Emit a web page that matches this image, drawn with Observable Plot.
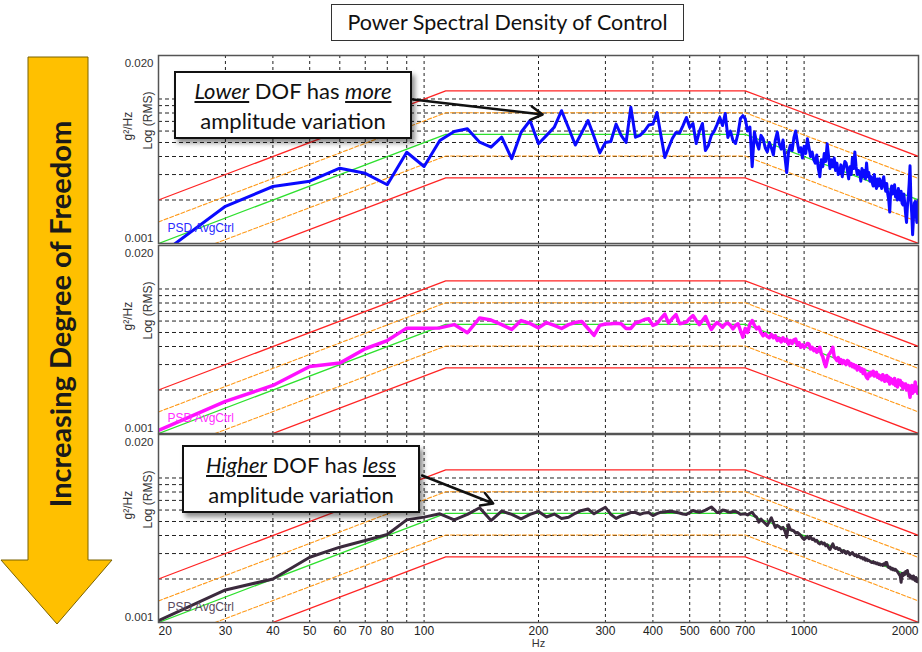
<!DOCTYPE html>
<html><head><meta charset="utf-8">
<script src="https://cdn.jsdelivr.net/npm/d3@7"></script>
<script src="https://cdn.jsdelivr.net/npm/@observablehq/plot@0.6"></script>
<style>
body{margin:0;background:#fff;}
#wrap{position:relative;width:922px;height:652px;overflow:hidden;font-family:Lato,"Open Sans",sans-serif;}
.panel{position:absolute;left:0;}
.title{position:absolute;left:331px;top:4px;width:353px;height:37px;border:1px solid #333;box-sizing:border-box;font-size:21.5px;line-height:35px;text-align:center;color:#111;background:#fff;}
.note{position:absolute;width:238px;height:68px;border:2px solid #111;box-sizing:border-box;background:#fff;box-shadow:3px 4px 5px rgba(0,0,0,0.45);text-align:center;font-size:22px;line-height:30px;padding-top:3px;color:#111;z-index:5;white-space:nowrap;}
</style></head>
<body>
<div id="wrap">
  <div class="title">Power Spectral Density of Control</div>
  <svg width="115" height="652" style="position:absolute;left:0;top:0">
    <polygon points="28,57 88,57 88,560 112,560 57,624 1,560 28,560" fill="#ffc000" stroke="#7a6200" stroke-width="1"/>
    <text transform="translate(59,314) rotate(-90)" text-anchor="middle" dominant-baseline="central" font-family="Lato" font-weight="bold" font-size="29" fill="#1a1a1a">Increasing Degree of Freedom</text>
  </svg>
  <div id="p1" class="panel" style="top:45px"></div>
  <div id="p2" class="panel" style="top:235px"></div>
  <div id="p3" class="panel" style="top:424px"></div>
  <div class="note" style="left:174px;top:71px"><u><i>Lower</i></u> DOF has <u><i>more</i></u><br>amplitude variation</div>
  <div class="note" style="left:182px;top:445px"><u><i>Higher</i></u> DOF has <u><i>less</i></u><br>amplitude variation</div>
</div>
<script>
// Frequencies (Hz), spectral lines every 10 Hz
const freqHz = [
20,30,40,50,60,70,80,90,100,110,120,130,140,150,160,170,180,190,200,210,
220,230,240,250,260,270,280,290,300,310,320,330,340,350,360,370,380,390,400,410,
420,430,440,450,460,470,480,490,500,510,520,530,540,550,560,570,580,590,600,610,
620,630,640,650,660,670,680,690,700,710,720,730,740,750,760,770,780,790,800,810,
820,830,840,850,860,870,880,890,900,910,920,930,940,950,960,970,980,990,1000,1010,
1020,1030,1040,1050,1060,1070,1080,1090,1100,1110,1120,1130,1140,1150,1160,1170,1180,1190,1200,1210,
1220,1230,1240,1250,1260,1270,1280,1290,1300,1310,1320,1330,1340,1350,1360,1370,1380,1390,1400,1410,
1420,1430,1440,1450,1460,1470,1480,1490,1500,1510,1520,1530,1540,1550,1560,1570,1580,1590,1600,1610,
1620,1630,1640,1650,1660,1670,1680,1690,1700,1710,1720,1730,1740,1750,1760,1770,1780,1790,1800,1810,
1820,1830,1840,1850,1860,1870,1880,1890,1900,1910,1920,1930,1940,1950,1960,1970,1980,1990,2000];

// PSD values in 10^-3 g²/Hz
const lowDofPsd = [
0.82,1.81,2.48,2.70,3.32,3.06,2.55,4.28,3.41,5.16,
5.96,6.22,5.02,4.64,5.44,3.86,5.89,7.1,4.9,5.6,
6.37,8.3,6.3,4.8,5.86,7.1,5.5,4.24,5.0,5.08,
6.7,5.6,5.0,8.77,5.44,5.6,6.0,6.6,6.7,8.07,
5.6,3.94,4.6,5.33,5.86,5.8,6.55,7.45,6.35,6.77,
4.92,5.95,6.77,4.4,4.77,5.6,6.0,6.65,7.45,6.55,
7.94,5.42,6.0,5.16,4.92,5.77,7.33,7.67,7.3,
6.0,6.4,3.4,5.9,5.0,4.5,5.6,5.3,4.6,4.3,
5.0,4.6,4.1,5.2,5.9,4.9,4.5,5.2,4.0,3.1,
4.3,4.8,4.4,5.4,6.0,5.0,4.3,4.6,3.9,4.7,
4.2,5.3,4.6,4.0,4.3,3.8,3.6,4.1,3.3,2.9,
3.8,3.4,4.2,3.7,4.9,4.0,3.3,3.8,3.4,3.9,
3.2,3.6,3.0,3.1,3.5,2.9,3.3,3.7,3.6,3.2,
2.8,3.4,3.0,3.9,3.3,4.3,3.4,3.0,3.2,3.1,
2.7,3.3,2.9,3.2,2.8,3.6,2.9,3.1,2.7,2.9,
2.65,2.5,3.0,2.6,2.4,2.8,2.5,2.8,2.6,2.4,
2.7,2.9,2.5,2.3,2.6,2.2,2.0,1.65,2.3,2.5,
2.2,2.4,2.55,2.1,2.3,2.0,2.4,2.2,2.0,2.3,
1.9,1.85,2.2,1.9,1.6,1.4,1.8,2.1,2.6,3.45,
2.0,1.6,1.15,1.5,1.9,1.95,1.7,1.4,1.9,2.0];

const midDofPsd = [
1.05,1.67,2.15,2.91,3.07,3.86,4.4,5.36,5.36,5.38,
5.67,4.98,6.31,6.1,5.67,5.25,6.05,5.77,5.38,5.86,
5.6,5.33,5.67,5.86,5.96,5.33,4.77,5.6,5.72,5.75,
5.8,5.75,5.33,5.33,5.82,5.96,6.15,6.22,5.6,5.75,
6.25,6.7,5.8,6.25,6.65,5.75,5.82,5.9,6.25,6.55,
6.05,5.67,6.05,6.45,5.75,5.25,5.6,5.86,5.67,5.44,
5.72,5.8,5.6,5.3,5.6,5.75,5.16,4.64,5.33,
5.0,5.7,6.05,5.6,5.3,5.45,5.0,4.75,4.9,4.7,
4.6,4.85,4.6,4.75,4.4,4.55,4.3,4.6,4.35,4.5,
4.15,4.4,4.2,4.45,4.5,4.1,4.25,3.95,4.1,3.95,
4.05,4.2,4.15,3.85,3.95,3.75,3.85,3.65,3.8,3.95,
3.55,3.4,3.1,2.9,3.2,3.5,3.6,3.75,3.95,3.4,
3.3,3.2,3.35,3.1,3.25,3.05,3.2,3.1,3.0,3.2,
3.15,2.95,3.05,2.9,3.0,2.85,2.95,2.75,2.9,2.85,
2.7,2.8,2.6,2.75,2.55,2.45,2.4,2.6,2.5,2.65,
2.55,2.7,2.5,2.6,2.65,2.45,2.55,2.4,2.5,2.35,
2.55,2.45,2.3,2.5,2.52,2.3,2.45,2.2,2.4,2.25,
2.35,2.2,2.4,2.15,2.3,2.1,2.35,2.2,2.33,2.15,
2.25,2.05,2.2,2.1,2.2,2.0,2.05,2.15,1.95,1.78,
2.0,2.15,1.9,2.1,1.95,2.27,2.0,2.1,1.9,2.05];

const highDofPsd = [
1.03,1.68,2.0,2.83,3.32,3.69,4.06,5.13,5.36,5.65,
5.13,5.6,6.22,5.08,5.9,5.6,5.22,5.6,5.86,5.37,
5.63,5.25,5.35,5.7,5.96,6.1,5.65,5.97,6.27,5.6,
5.25,5.47,5.6,5.77,5.77,5.6,5.73,5.77,5.5,5.67,
5.8,5.82,5.88,5.86,5.8,5.73,5.63,5.6,5.77,5.96,
5.86,5.8,5.88,6.0,6.15,6.3,6.05,5.77,5.77,6.0,
5.96,5.82,5.8,5.86,5.87,5.77,5.6,5.63,5.65,
5.55,5.7,5.8,5.5,5.35,4.95,5.2,5.0,4.85,4.7,
5.0,5.3,4.9,4.55,4.7,4.6,4.45,4.55,4.3,3.9,
4.75,4.4,4.35,4.3,4.15,4.2,4.1,4.0,3.85,3.75,
3.85,3.95,3.8,3.9,3.75,3.8,3.65,3.7,3.55,3.5,
3.6,3.5,3.55,3.4,3.45,3.3,3.2,3.35,3.5,3.3,
3.25,3.3,3.2,3.25,3.15,3.05,3.15,3.1,3.0,3.1,
3.05,2.95,3.0,3.05,2.95,2.9,2.95,2.85,2.9,2.85,
2.8,2.82,2.75,2.8,2.7,2.75,2.68,2.7,2.65,2.62,
2.6,2.64,2.58,2.6,2.55,2.58,2.52,2.55,2.5,2.52,
2.48,2.55,2.5,2.6,2.6,2.45,2.4,2.42,2.35,2.38,
2.32,2.35,2.3,2.33,2.29,2.25,2.2,2.15,2.11,1.9,
2.18,2.1,2.2,2.15,2.25,2.2,2.29,2.1,2.15,2.05,
2.1,2.06,2.0,2.1,1.98,1.95,2.05,1.92,2.0,1.9];

// Test profile breakpoints (Hz) and levels (10^-3 g²/Hz)
const profileFreq = [20, 114, 700, 2000];
const referenceLevel = [1.0, 5.7, 5.7, 2.0];
const alarmHigh = [1.41, 8.04, 8.04, 2.82];
const alarmLow = [0.71, 4.03, 4.03, 1.41];
const abortHigh = [2.0, 11.4, 11.4, 4.0];
const abortLow = [0.5, 2.85, 2.85, 1.0];

// Axis ticks / grid
const xGridHz = [30,40,50,60,70,80,90,100,200,300,400,500,600,700,800,900,1000];
const xTickLabels = [20,30,40,50,60,70,80,100,200,300,400,500,600,700,1000,2000];
const yGridLevels = [0.002,0.003,0.004,0.005,0.006,0.007,0.008,0.009,0.01];
const yTickTop = [0.02];
const yTickBottom = [0.001];

// Annotation arrows [f1, v1, f2, v2] (v in 10^-3 g²/Hz)
const arrowLower = [93.5, 9.92, 205, 7.81];
const arrowHigher = [98.8, 10.4, 152, 6.66];

function profile(levels){ return profileFreq.map((f,i)=>({f, v: levels[i]/1000})); }

function panel({values, color, width, legendColor, arrow, bottomAxis}) {
  const data = freqHz.map((f,i)=>({f, v: values[i]/1000}));
  const mt = 10, mb = bottomAxis ? 30 : 10;
  const marks = [
    Plot.ruleX(xGridHz, {x: d=>d, stroke:"#222", strokeWidth:1, strokeDasharray:"3,3"}),
    Plot.ruleY(yGridLevels, {y: d=>d, stroke:"#222", strokeWidth:1, strokeDasharray:"4,3"}),
    Plot.line(profile(abortHigh), {x:"f", y:"v", stroke:"#ff2424", strokeWidth:1.3, clip:true}),
    Plot.line(profile(abortLow), {x:"f", y:"v", stroke:"#ff2424", strokeWidth:1.3, clip:true}),
    Plot.line(profile(alarmHigh), {x:"f", y:"v", stroke:"#ff9a1a", strokeWidth:1.1, strokeDasharray:"4,2", clip:true}),
    Plot.line(profile(alarmLow), {x:"f", y:"v", stroke:"#ff9a1a", strokeWidth:1.1, strokeDasharray:"4,2", clip:true}),
    Plot.line(profile(referenceLevel), {x:"f", y:"v", stroke:"#2ee02e", strokeWidth:1.3, clip:true}),
    Plot.line(data, {x:"f", y:"v", stroke:color, strokeWidth:width, strokeLinejoin:"round", clip:true}),
    Plot.frame({stroke:"#555", strokeWidth:1.5}),
    Plot.axisY(yTickTop, {tickSize:0, tickPadding:5, tickFormat:".3f", dy:8, label:null, fill:"#333", fontSize:11.5}),
    Plot.axisY(yTickBottom, {tickSize:0, tickPadding:5, tickFormat:".3f", dy:-5, label:null, fill:"#333", fontSize:11.5}),
    Plot.text(["g²/Hz"], {text:d=>d, frameAnchor:"left", rotate:-90, dx:-30, dy:-9, fontSize:12, fill:"#333"}),
    Plot.text(["Log (RMS)"], {text:d=>d, frameAnchor:"left", rotate:-90, dx:-10, dy:0, fontSize:12, fill:"#333"}),
    Plot.text(["PSD AvgCtrl"], {text:d=>d, frameAnchor:"bottom-left", textAnchor:"start", lineAnchor:"middle", dx:9, dy:-15, fill:legendColor, fontSize:12})
  ];
  if (arrow) {
    marks.push(Plot.arrow([arrow], {x1:d=>d[0], y1:d=>d[1]/1000, x2:d=>d[2], y2:d=>d[3]/1000, stroke:"#111", strokeWidth:2.5, headLength:8}));
  }
  if (bottomAxis) {
    const first = xTickLabels.slice(0,1), last = xTickLabels.slice(-1), mid = xTickLabels.slice(1,-1);
    const lab = {x:d=>d, text:d=>String(d), frameAnchor:"bottom", lineAnchor:"top", dy:4, fill:"#222", fontSize:12};
    marks.push(Plot.text(first, {...lab, textAnchor:"start"}));
    marks.push(Plot.text(mid, {...lab, textAnchor:"middle"}));
    marks.push(Plot.text(last, {...lab, textAnchor:"end"}));
    marks.push(Plot.text(["Hz"], {text:d=>d, frameAnchor:"bottom", lineAnchor:"middle", dy:21, fontSize:11, fill:"#333"}));
  }
  return Plot.plot({
    width: 922, height: mt + 188 + mb,
    marginLeft: 158, marginRight: 4, marginTop: mt, marginBottom: mb,
    x: {type:"log", domain:[20,2000], axis:null},
    y: {type:"log", domain:[0.001,0.02]},
    style: {background:"transparent", fontFamily:"'Liberation Sans', Arial, sans-serif", fontSize:"11px", overflow:"visible"},
    marks
  });
}

document.getElementById("p1").append(panel({values: lowDofPsd, color:"#0a0aff", width:3, legendColor:"#2a2aff", arrow: arrowLower}));
document.getElementById("p2").append(panel({values: midDofPsd, color:"#ff10ff", width:3.5, legendColor:"#ff30ff"}));
document.getElementById("p3").append(panel({values: highDofPsd, color:"#3b2a3d", width:3, legendColor:"#5a4a5c", arrow: arrowHigher, bottomAxis:true}));
</script>
</body></html>
